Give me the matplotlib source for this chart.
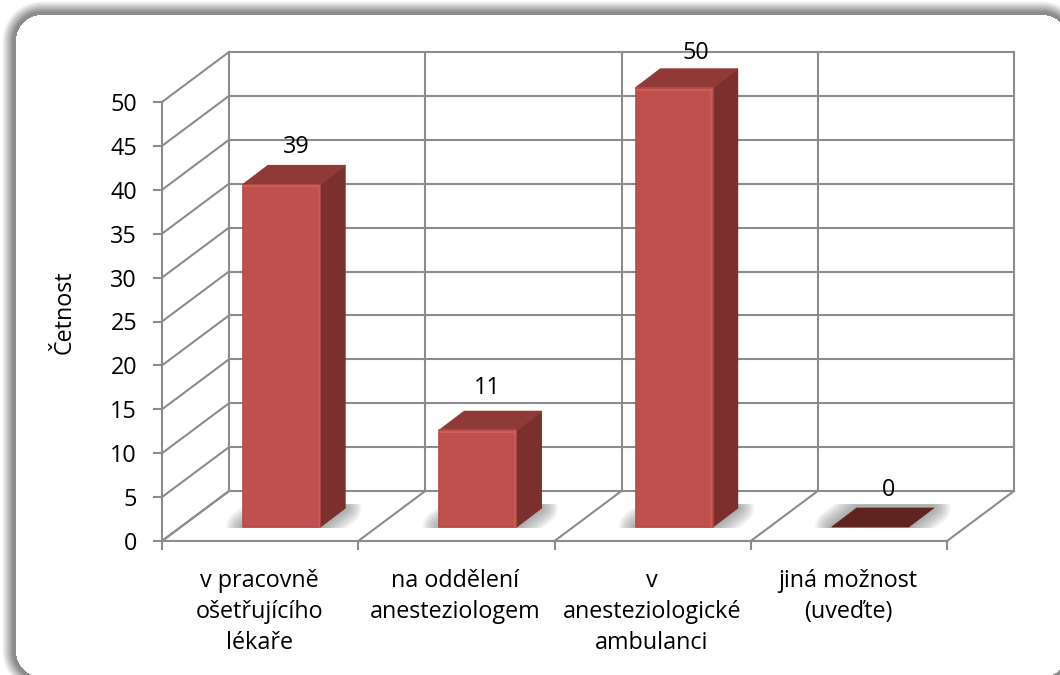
import numpy as np
import matplotlib
matplotlib.use("Agg")
import matplotlib.pyplot as plt
from matplotlib.patches import Polygon, Rectangle

plt.rcParams['font.family'] = ['Open Sans', 'DejaVu Sans']

# donnees
categories = ["v pracovně\nošetřujícího\nlékaře", "na oddělení\nanesteziologem",
              "v\nanesteziologické\nambulanci", "jiná možnost\n(uveďte)"]
valeurs = [39, 11, 50, 0]
graduations = [0, 5, 10, 15, 20, 25, 30, 35, 40, 45, 50]
titre_y = "Četnost"

W, H = 1060, 675
X0, Y0 = 162, 541        # coin avant gauche en pixels
SX, SY = 196.25, 8.78    # pixels par categorie / par unite

# profondeur du mur et du sol, position des barres
MUR_DX, MUR_DY = 67 / SX, 50 / SY
BARRE_X, BARRE_L = 81 / SX, 77 / SX
BARRE_Y = 14 / SY
COTE_DX, COTE_DY = 25 / SX, 19 / SY

# les etiquettes sont placees a la main dans l'original (pixels)
ETIQ_DX = [15, 10, 22, 18]
ETIQ_DY = [41, 45, 38, 40]

GRIS = "#8c8c8c"
FACE, COTE, DESSUS = "#c0504d", "#7b302e", "#903a38"
TAILLE = 16.8

fig = plt.figure(figsize=(W / 100, H / 100), dpi=100)

# cadre arrondi avec ombre
fond = fig.add_axes([0, 0, 1, 1])
fond.set_axis_off()
px, py = np.meshgrid(np.arange(W) + 0.5, np.arange(H) + 0.5)
g, d, h, b, r = 16, 1068, 15, 677, 26
qx = np.abs(px - (g + d) / 2) - ((d - g) / 2 - r)
qy = np.abs(py - (h + b) / 2) - ((b - h) / 2 - r)
dist = np.hypot(np.maximum(qx, 0), np.maximum(qy, 0)) + np.minimum(np.maximum(qx, qy), 0) - r
t = np.clip((dist - 3) / 11, 0, 1)
ombre = 0.55 + 0.45 * t
ombre = np.where(dist <= 0, 1.0, ombre)
fond.imshow(ombre, cmap="gray", vmin=0, vmax=1, extent=(0, W, H, 0), aspect="auto",
            interpolation="bilinear")

ax = fig.add_axes([0, 0, 1, 1])
ax.set_axis_off()
ax.patch.set_alpha(0)
ax.set_xlim(-X0 / SX, (W - X0) / SX)
ax.set_ylim((Y0 - H) / SY, Y0 / SY)

n = len(categories)
ymax = max(graduations)
TXT = -3 / SY  # petit decalage vertical du texte


def trait(xs, ys):
    ax.plot(xs, ys, color=GRIS, lw=1.5, solid_capstyle="projecting")


# murs et sol
for v in graduations:
    trait([0, MUR_DX], [v, v + MUR_DY])
    trait([MUR_DX, n + MUR_DX], [v + MUR_DY, v + MUR_DY])
    trait([-8 / SX, 0], [v, v])
trait([0, 0], [0, ymax])
for i in range(n + 1):
    trait([i + MUR_DX, i + MUR_DX], [MUR_DY, ymax + MUR_DY])
    trait([i, i + MUR_DX], [0, MUR_DY])
    trait([i, i], [-8 / SY, 0])
trait([0, n], [0, 0])

# barres
for i, v in enumerate(valeurs):
    x1 = i + BARRE_X
    x2 = x1 + BARRE_L
    y1 = BARRE_Y
    y2 = y1 + v

    # ombre portee sur le sol, coupee au bord avant de la barre
    sol = [(x1, y1), (x1 + COTE_DX, y1 + COTE_DY),
           (x2 + COTE_DX, y1 + COTE_DY), (x2, y1)]
    zone = Rectangle((x1 - 30 / SX, y1 - 1 / SY), BARRE_L + 90 / SX, COTE_DY + 5 / SY,
                     transform=ax.transData)
    for lw in np.linspace(24, 2, 10):
        p = Polygon(sol, closed=True, fc="#666666", ec="#666666", lw=lw,
                    alpha=0.07, joinstyle="round", zorder=3)
        ax.add_patch(p)
        p.set_clip_path(zone)

    if v == 0:
        ax.add_patch(Polygon(sol, closed=True, fc="#5f2420", ec="#5f2420", lw=0.5, zorder=4))
    else:
        ax.add_patch(Polygon([(x2, y1), (x2 + COTE_DX, y1 + COTE_DY),
                              (x2 + COTE_DX, y2 + COTE_DY), (x2, y2)], closed=True,
                             fc=COTE, ec=COTE, lw=1, joinstyle="round", zorder=4))
        ax.add_patch(Polygon([(x1, y2), (x1 + COTE_DX, y2 + COTE_DY),
                              (x2 + COTE_DX, y2 + COTE_DY), (x2, y2)], closed=True,
                             fc=DESSUS, ec=DESSUS, lw=1, joinstyle="round", zorder=4))
        ax.add_patch(Polygon([(x1, y1), (x1, y2), (x2, y2), (x2, y1)], closed=True,
                             fc=FACE, ec="#b64a47", lw=1.2, joinstyle="round", zorder=5))
        ax.plot([x1 + 1 / SX, x2 - 1 / SX], [y2 - 1.5 / SY, y2 - 1.5 / SY],
                color="#cc615e", lw=1.2, zorder=6)
        ax.plot([x2 - 1.5 / SX, x2 - 1.5 / SX], [y1, y2 - 1 / SY],
                color="#c95c59", lw=1.2, zorder=6)

    # etiquette de valeur
    ax.text(x1 + BARRE_L / 2 + ETIQ_DX[i] / SX, y2 + ETIQ_DY[i] / SY + TXT, str(v),
            ha="center", va="center", fontsize=TAILLE, color="black", zorder=7)

# textes des axes
for v in graduations:
    ax.text(-25 / SX, v + TXT, str(v), ha="right", va="center", fontsize=TAILLE, color="black")
for i, c in enumerate(categories):
    ax.text(i + 0.5 - 1 / SX, -28 / SY, c, ha="center", va="top", fontsize=TAILLE,
            color="black", linespacing=1.38)
ax.text(-97 / SX, 229 / SY, titre_y, rotation=90, ha="center", va="center",
        fontsize=TAILLE, color="black")

fig.savefig("out.png", dpi=100)
